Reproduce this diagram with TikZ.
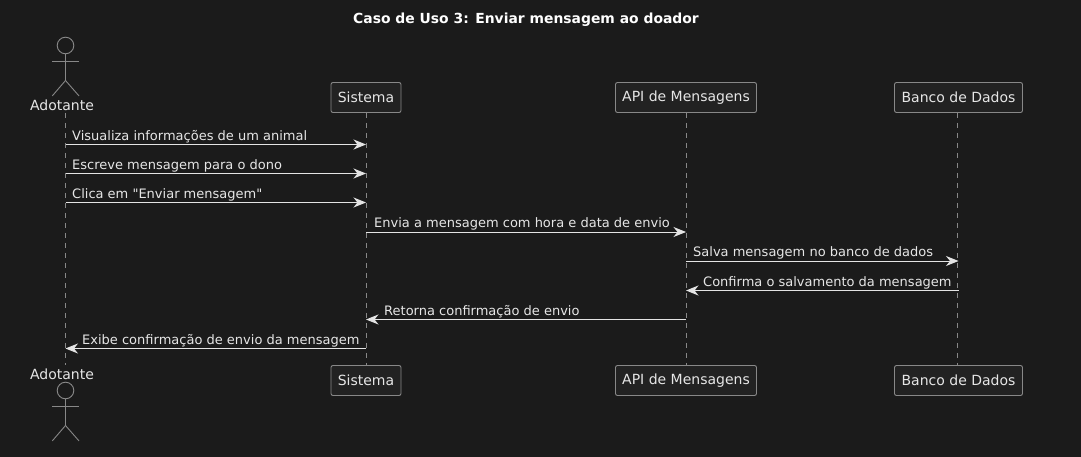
\documentclass[tikz,border=0pt]{standalone}
\usepackage{fontspec}
\setmainfont{DejaVu Sans}
\newfontfamily\msgfont{DejaVu Sans}
\usetikzlibrary{arrows.meta}
\definecolor{bgdark}{HTML}{1B1B1B}
\definecolor{boxfill}{HTML}{222222}
\definecolor{linegray}{HTML}{888888}
\definecolor{msgline}{HTML}{E4E4E4}
\definecolor{msgtext}{HTML}{E6E6E6}
\tikzset{
	% participant boxes
	partbox/.style={draw=linegray,fill=boxfill,text=msgtext,rounded corners=2pt,line width=0.9pt,
		inner sep=0pt,minimum height=30pt,font=\fontsize{14}{16}\selectfont},
	% lifelines
	lifeline/.style={draw=linegray,line width=0.9pt,dash pattern=on 5pt off 5pt},
	% messages
	msg/.style={draw=msgline,line width=1pt,-{Stealth[length=12.5pt,width=10pt,inset=4pt]}},
	msgtxt/.style={text=msgtext,inner sep=0pt,anchor=base west,font=\msgfont\fontsize{13}{15}\selectfont},
	actorname/.style={text=msgtext,inner sep=0pt,font=\fontsize{14}{16}\selectfont},
	actorline/.style={draw=linegray,line width=0.9pt},
}
\begin{document}
\begin{tikzpicture}[x=1pt,y=-1pt]
% the background fixes the page
\fill[bgdark] (0,0) rectangle (1081,457);
\useasboundingbox (0,0) rectangle (1081,457);
\node[text=white,inner sep=0pt,font=\fontsize{13.9}{16}\selectfont\bfseries] (title) at (526,19.5) {Caso de Uso 3: Enviar mensagem ao doador};
% the participants, top and bottom
\coordinate (adoTop) at (65.5,113);
\coordinate (adoBot) at (65.5,365);
\foreach \n/\x/\w/\lab in {sis/366/70/Sistema,api/686/141/API de Mensagens,ban/958.5/128/Banco de Dados}{
  \node[partbox,minimum width=\w pt] (\n Top) at (\x,97.5) {\lab};
  \node[partbox,minimum width=\w pt] (\n Bot) at (\x,380.5) {\lab};
}
\node[actorname] (adoTopName) at (62,105) {Adotante};
\node[actorname] (adoBotName) at (62,374) {Adotante};
% the stick figures
\foreach \y in {45.5,390.5}{
  \draw[actorline] (65.5,\y) circle (8.3);
  \draw[actorline] (65.5,\y+8.3) -- (65.5,\y+35) -- (52.3,\y+50.4);
  \draw[actorline] (65.5,\y+35) -- (79,\y+50.4);
  \draw[actorline] (52.3,\y+16) -- (79,\y+16);
}
% the lifelines
\draw[lifeline] (adoTop) -- (adoBot);
\draw[lifeline] (sisTop.south) -- (sisBot.north);
\draw[lifeline] (apiTop.south) -- (apiBot.north);
\draw[lifeline] ([xshift=-1pt]banTop.south) -- ([xshift=-1pt]banBot.north);
% the messages
\foreach \y/\a/\b/\tx/\lab in {
  144.5/adoTop/sisTop/72/{Visualiza informações de um animal},
  173.5/adoTop/sisTop/72/{Escreve mensagem para o dono},
  202.5/adoTop/sisTop/72/{Clica em "Enviar mensagem"},
  232/sisTop/apiTop/374/{Envia a mensagem com hora e data de envio},
  261/apiTop/banTop/693/{Salva mensagem no banco de dados},
  290.5/banTop/apiTop/703/{Confirma o salvamento da mensagem},
  319.5/apiTop/sisTop/384/{Retorna confirmação de envio},
  348.5/sisTop/adoTop/82/{Exibe confirmação de envio da mensagem}}{
  \draw[msg] (\a |- 0,\y) -- (\b |- 0,\y);
  \node[msgtxt] at (\tx,\y-4.2) {\lab};
}
\end{tikzpicture}
\end{document}
